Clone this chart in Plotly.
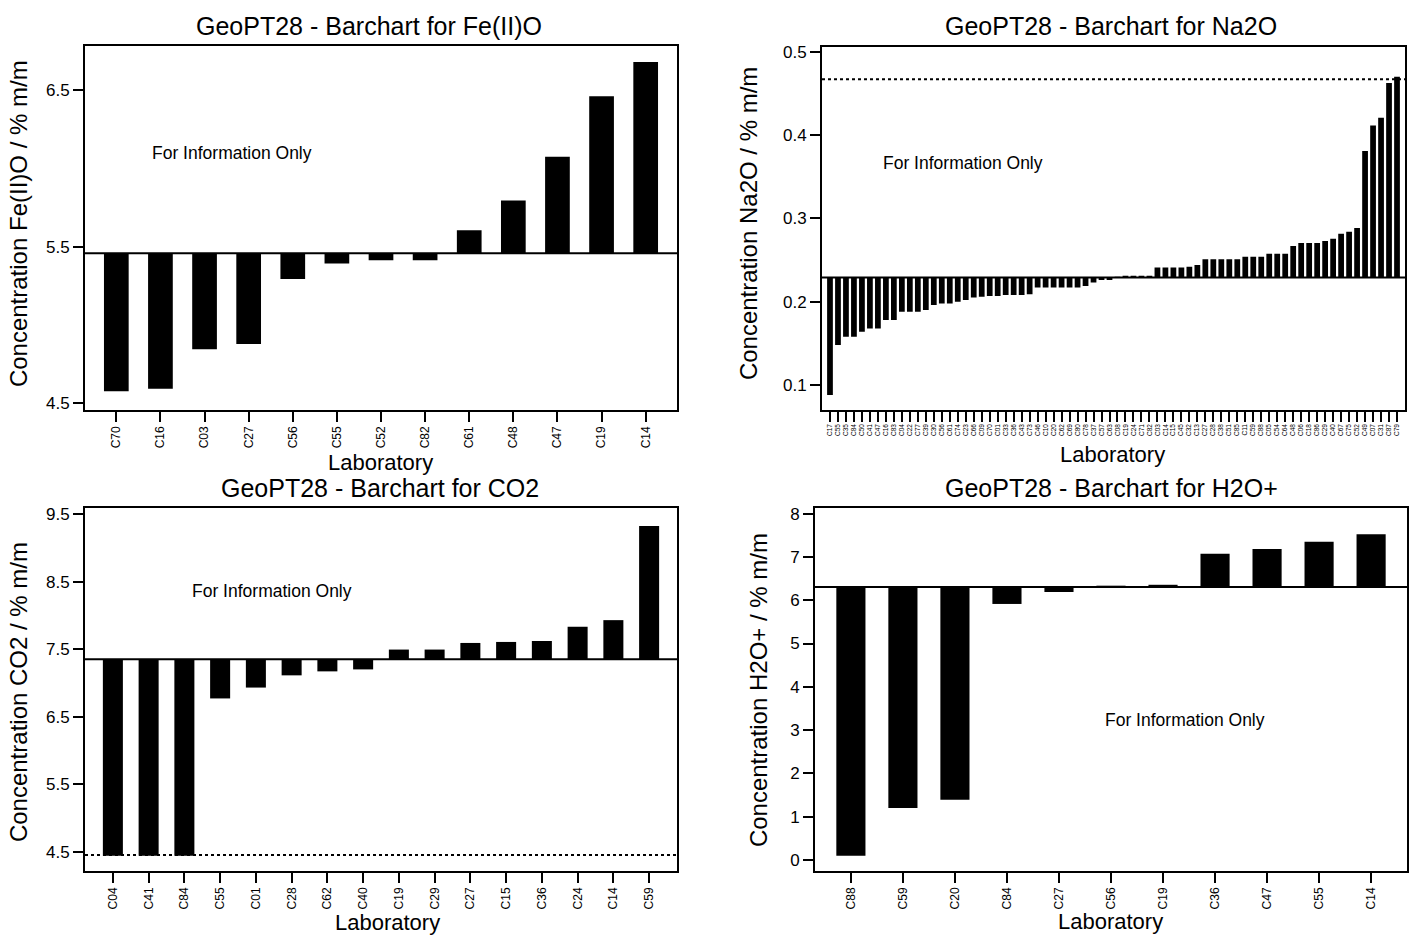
import plotly.graph_objects as go

W, H = 1421, 941

# ---- Fe(II)O ----
fe_labs = ["C70", "C16", "C03", "C27", "C56", "C55", "C52", "C82", "C61", "C48", "C47", "C19", "C14"]
fe_vals = [4.576, 4.593, 4.844, 4.878, 5.293, 5.392, 5.413, 5.413, 5.605, 5.795, 6.074, 6.460, 6.679]
fe_ref = 5.458
fe_ticks = [4.5, 5.5, 6.5]

# ---- Na2O ----
na_labs = ["C17", "C55", "C35", "C84", "C50", "C41", "C47", "C16", "C83", "C04", "C22", "C77",
           "C39", "C30", "C56", "C61", "C74", "C23", "C66", "C09", "C70", "C01", "C33", "C36",
           "C43", "C73", "C46", "C10", "C20", "C62", "C69", "C80", "C78", "C37", "C57", "C63",
           "C08", "C19", "C24", "C71", "C82", "C03", "C14", "C15", "C45", "C32", "C13", "C27",
           "C28", "C38", "C51", "C85", "C11", "C59", "C88", "C05", "C54", "C64", "C48", "C06",
           "C18", "C86", "C29", "C40", "C67", "C75", "C52", "C49", "C07", "C31", "C87", "C79"]
na_vals = [0.088, 0.148, 0.158, 0.158, 0.164, 0.168, 0.168, 0.178, 0.178, 0.188, 0.188, 0.188,
           0.190, 0.196, 0.198, 0.198, 0.200, 0.202, 0.205, 0.206, 0.207, 0.207, 0.208, 0.208,
           0.208, 0.209, 0.217, 0.217, 0.217, 0.217, 0.217, 0.217, 0.219, 0.223, 0.226, 0.226,
           0.230, 0.231, 0.231, 0.231, 0.231, 0.241, 0.241, 0.241, 0.241, 0.242, 0.244, 0.251,
           0.251, 0.251, 0.251, 0.251, 0.254, 0.254, 0.254, 0.2575, 0.2575, 0.2575, 0.267, 0.2705,
           0.2705, 0.2705, 0.273, 0.2755, 0.2815, 0.284, 0.2885, 0.381, 0.4115, 0.421, 0.4625, 0.470]
na_ref = 0.229
na_upper = 0.467
na_ticks = [0.1, 0.2, 0.3, 0.4, 0.5]

# ---- CO2 ----
co2_labs = ["C04", "C41", "C84", "C55", "C01", "C28", "C62", "C40", "C19", "C29", "C27", "C15",
            "C36", "C24", "C14", "C59"]
co2_vals = [4.44, 4.44, 4.44, 6.771, 6.932, 7.113, 7.172, 7.201, 7.495, 7.495, 7.593, 7.608,
            7.622, 7.833, 7.931, 9.325]
co2_ref = 7.353
co2_lower = 4.451
co2_ticks = [4.5, 5.5, 6.5, 7.5, 8.5, 9.5]

# ---- H2O+ ----
h2o_labs = ["C88", "C59", "C20", "C84", "C27", "C56", "C19", "C36", "C47", "C55", "C14"]
h2o_vals = [0.099, 1.199, 1.390, 5.914, 6.190, 6.320, 6.357, 7.076, 7.183, 7.351, 7.526]
h2o_ref = 6.304
h2o_ticks = [0, 1, 2, 3, 4, 5, 6, 7, 8]

SANS = "Liberation Sans, Arial, Helvetica, sans-serif"


def px_x(p):
    return p / W


def px_y(p):
    return 1 - p / H


panels = [
    dict(name="Fe(II)O", labs=fe_labs, vals=fe_vals, ref=fe_ref, ticks=fe_ticks,
         fmt=lambda v: f"{v:.1f}", yrange=[4.46, 6.783], box=(85, 677, 42, 409),
         margin=0.71, width=0.56, tickfont=12, limits=[],
         title_xy=(369, 22), ytitle_xy=(18, 222), xtitle_xy=(380, 462), note_xy=(0.248, 0.706)),
    dict(name="Na2O", labs=na_labs, vals=na_vals, ref=na_ref, ticks=na_ticks,
         fmt=lambda v: f"{v:.1f}", yrange=[0.0706, 0.5063], box=(822, 1405, 43, 409),
         margin=1.0, width=0.72, tickfont=6.5, limits=[na_upper],
         title_xy=(1111, 22), ytitle_xy=(748, 222), xtitle_xy=(1112, 454), note_xy=(0.242, 0.68)),
    dict(name="CO2", labs=co2_labs, vals=co2_vals, ref=co2_ref, ticks=co2_ticks,
         fmt=lambda v: f"{v:.1f}", yrange=[4.221, 9.597], box=(85, 677, 508, 874),
         margin=0.78, width=0.56, tickfont=12, limits=[co2_lower],
         title_xy=(380, 488), ytitle_xy=(18, 694), xtitle_xy=(388, 926), note_xy=(0.316, 0.770)),
    dict(name="H2O+", labs=h2o_labs, vals=h2o_vals, ref=h2o_ref, ticks=h2o_ticks,
         fmt=lambda v: f"{v:g}", yrange=[-0.245, 8.138], box=(815, 1407, 508, 874),
         margin=0.69, width=0.56, tickfont=12, limits=[],
         title_xy=(1111, 488), ytitle_xy=(758, 692), xtitle_xy=(1110, 925), note_xy=(0.625, 0.415)),
]

fig = go.Figure()
layout = dict(
    width=W, height=H,
    margin=dict(l=0, r=0, t=0, b=0),
    paper_bgcolor="white", plot_bgcolor="white",
    showlegend=False,
    font=dict(family=SANS, color="black"),
)
shapes, annotations = [], []

for i, p in enumerate(panels, start=1):
    xa = "x" if i == 1 else f"x{i}"
    ya = "y" if i == 1 else f"y{i}"
    n = len(p["labs"])
    idx = list(range(n))
    x0, x1, y0, y1 = p["box"]

    # bars hang from the assigned value up or down to each laboratory's result
    fig.add_trace(go.Bar(
        x=idx, y=[v - p["ref"] for v in p["vals"]], base=p["ref"],
        width=p["width"], marker=dict(color="black", line=dict(width=0)),
        xaxis=xa, yaxis=ya, hoverinfo="skip",
    ))

    axis_common = dict(showline=True, mirror=True, linecolor="black", linewidth=2,
                       showgrid=False, zeroline=False, ticks="outside",
                       ticklen=10, tickwidth=2, tickcolor="black")
    layout["xaxis" if i == 1 else f"xaxis{i}"] = dict(
        domain=[px_x(x0), px_x(x1)], anchor=ya,
        range=[-p["margin"], n - 1 + p["margin"]],
        tickmode="array", tickvals=idx, ticktext=p["labs"], tickangle=-90,
        tickfont=dict(family=SANS, size=p["tickfont"]),
        **axis_common,
    )
    layout["yaxis" if i == 1 else f"yaxis{i}"] = dict(
        domain=[px_y(y1), px_y(y0)], anchor=xa, range=p["yrange"],
        tickmode="array", tickvals=p["ticks"], ticktext=[p["fmt"](t) for t in p["ticks"]],
        tickfont=dict(family=SANS, size=17),
        **axis_common,
    )

    # assigned value
    shapes.append(dict(type="line", xref=f"{xa} domain", yref=ya, x0=0, x1=1,
                       y0=p["ref"], y1=p["ref"], line=dict(color="black", width=2),
                       layer="above"))
    # tolerance limits
    for lim in p["limits"]:
        shapes.append(dict(type="line", xref=f"{xa} domain", yref=ya, x0=0, x1=1,
                           y0=lim, y1=lim, line=dict(color="black", width=2, dash="dot"),
                           layer="above"))

    tx, ty = p["title_xy"]
    annotations.append(dict(text=f"GeoPT28 - Barchart for {p['name']}", xref="paper", yref="paper",
                            x=px_x(tx), y=px_y(ty), showarrow=False,
                            xanchor="center", yanchor="middle",
                            font=dict(family=SANS, size=25)))
    yx, yy = p["ytitle_xy"]
    annotations.append(dict(text=f"Concentration {p['name']} / % m/m", xref="paper", yref="paper",
                            x=px_x(yx), y=px_y(yy), showarrow=False, textangle=-90,
                            xanchor="center", yanchor="middle",
                            font=dict(family=SANS, size=24)))
    lx, ly = p["xtitle_xy"]
    annotations.append(dict(text="Laboratory", xref="paper", yref="paper",
                            x=px_x(lx), y=px_y(ly), showarrow=False,
                            xanchor="center", yanchor="middle",
                            font=dict(family=SANS, size=22)))
    nx, ny = p["note_xy"]
    annotations.append(dict(text="For Information Only", xref=f"{xa} domain", yref=f"{ya} domain",
                            x=nx, y=ny, showarrow=False, xanchor="center", yanchor="middle",
                            font=dict(family=SANS, size=17.5)))

layout["shapes"] = shapes
layout["annotations"] = annotations
fig.update_layout(**layout)

fig.write_html("out.html")
